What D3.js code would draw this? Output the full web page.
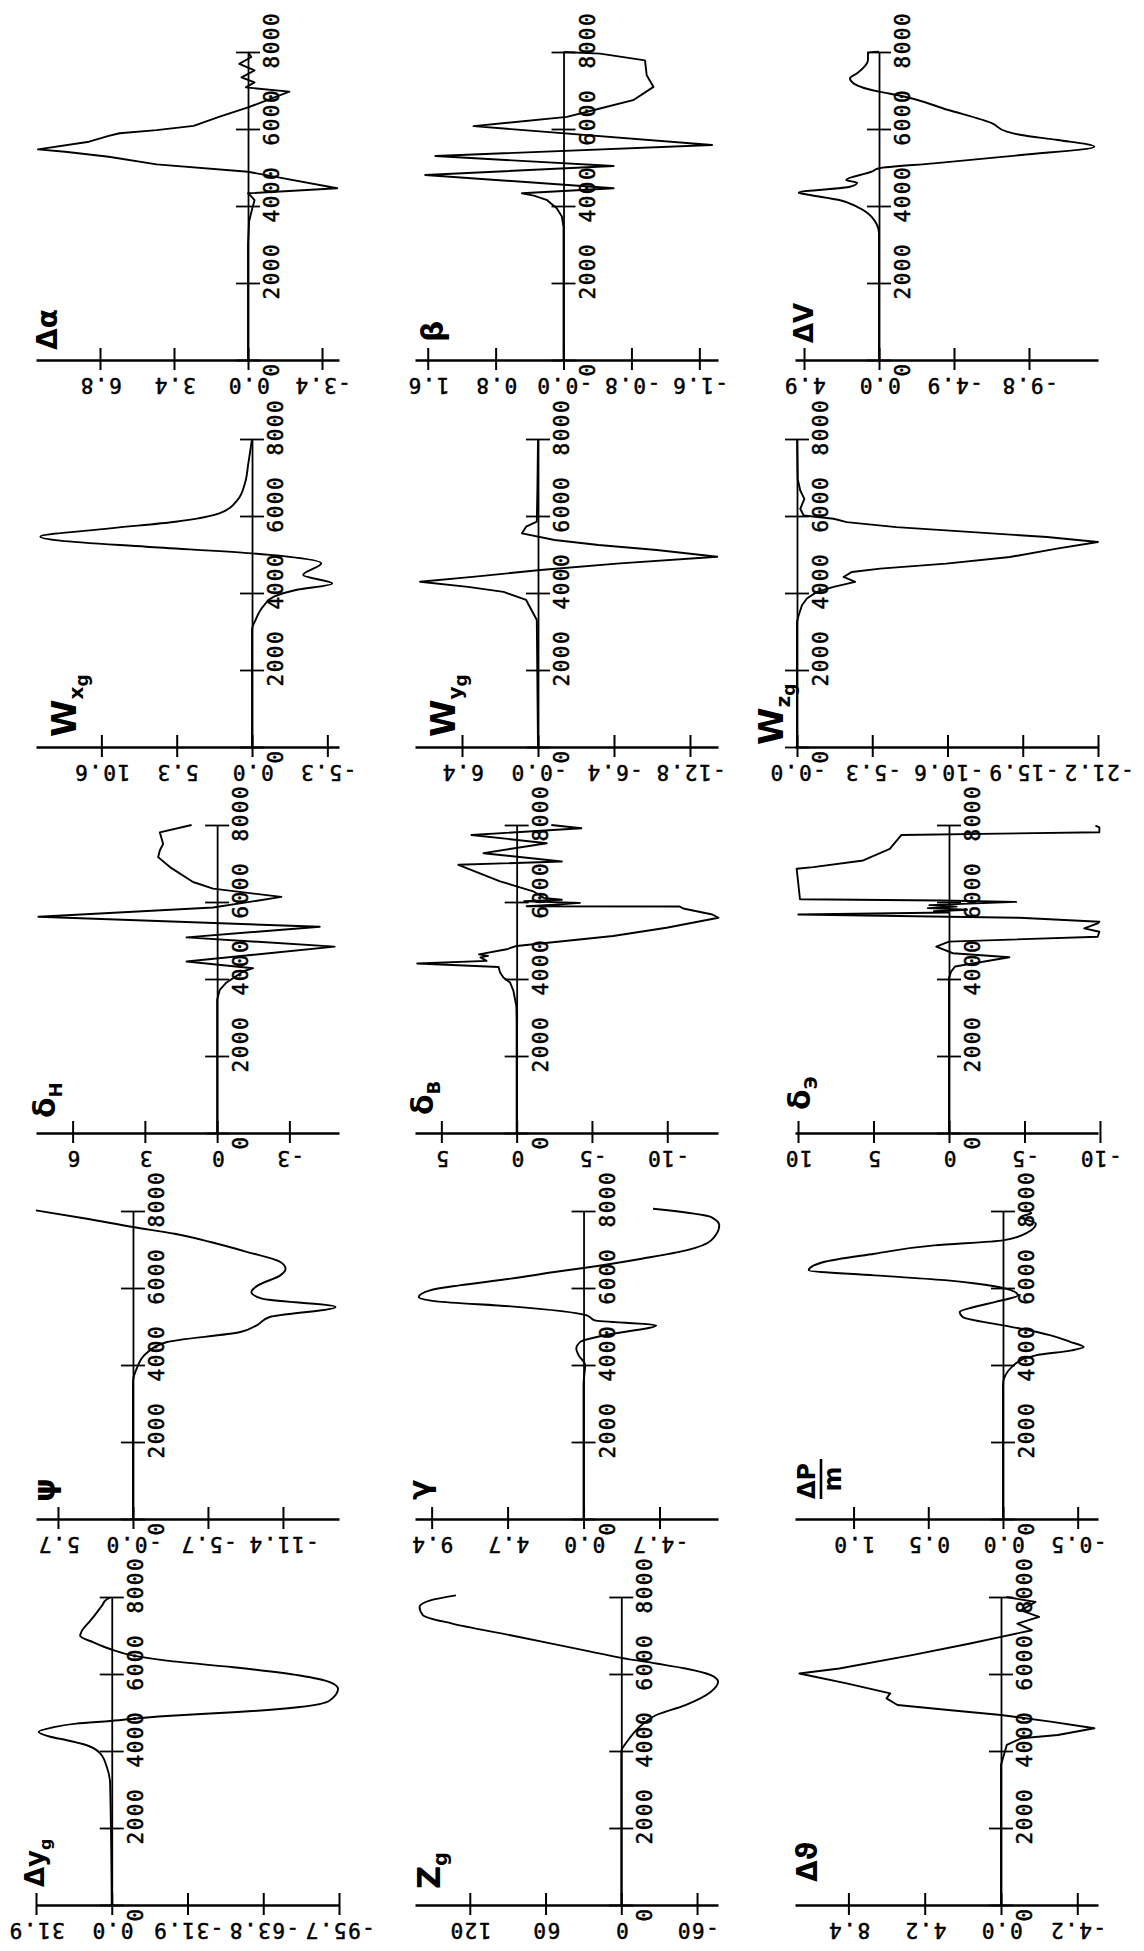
<!DOCTYPE html>
<html>
<head>
<meta charset="utf-8">
<script src="https://cdn.jsdelivr.net/npm/d3@7"></script>
<style>
  body { margin: 0; background: #fff; }
  svg { display: block; }
</style>
</head>
<body>
<script>
// time axis shared by all panels (t, 0..8000)
var timeTicks = [0, 2000, 4000, 6000, 8000];

// value axis tick labels, as printed, and the value at each end of the axis
var alphaTicks = ["6.8", "3.4", "0.0", "-3.4"],            alphaExt = [9.74, -4.18];
var betaTicks  = ["1.6", "0.8", "-0.0", "-0.8", "-1.6"],   betaExt  = [1.75, -1.82];
var dvTicks    = ["4.9", "0.0", "-4.9", "-9.8"],           dvExt    = [5.49, -14.31];
var wxTicks    = ["10.6", "5.3", "0.0", "-5.3"],           wxExt    = [15.2, -6.12];
var wyTicks    = ["6.4", "-0.0", "-6.4", "-12.8"],         wyExt    = [10.36, -15.16];
var wzTicks    = ["-0.0", "-5.3", "-10.6", "-15.9", "-21.2"], wzExt = [0.14, -21.2];
var dhTicks    = ["6", "3", "0", "-3"],                    dhExt    = [7.52, -5.06];
var dbTicks    = ["5", "0", "-5", "-10"],                  dbExt    = [6.75, -13.37];
var deTicks    = ["10", "5", "0", "-5", "-10"],            deExt    = [10.2, -9.87];
var psiTicks   = ["5.7", "-0.0", "-5.7", "-11.4"],         psiExt   = [7.37, -15.66];
var gamTicks   = ["9.4", "4.7", "0.0", "-4.7"],            gamExt   = [10.43, -8.32];
var pmTicks    = ["1.0", "0.5", "0.0", "-0.5"],            pmExt    = [1.392, -0.636];
var dyTicks    = ["31.9", "0.0", "-31.9", "-63.8", "-95.7"], dyExt  = [31.9, -95.7];
var zgTicks    = ["120", "60", "0", "-60"],                zgExt    = [163.4, -76.6];
var dthTicks   = ["8.4", "4.2", "0.0", "-4.2"],            dthExt   = [11.34, -5.34];

// series, [t, value]
var dAlpha = [[0,0],[3000,0],[3600,-0.05],[3950,-0.2],[4150,-0.3],[4280,-0.1],[4330,0],[4460,-4.1],[4890,0],
  [5080,4.2],[5280,6.4],[5410,8.4],[5470,9.65],[5670,7.3],[5820,6.4],[5890,5.9],[5970,4.2],[6080,2.5],
  [6320,1.3],[6560,0],[6970,-1.9],[7080,0.1],[7210,-0.3],[7340,0.3],[7520,-0.3],[7690,0.4],[7870,-0.15],[8000,0]];
var dBeta = [[0,0],[3460,0],[3730,0.02],[3940,0.08],[4160,0.2],[4270,0.35],[4330,0.49],[4460,-0.59],
  [4806,1.63],[5039,-0.59],[5298,1.51],[5583,-1.75],[6075,1.06],[6316,-0.04],[6532,-0.43],[6748,-0.82],
  [7093,-1.06],[7396,-0.98],[7784,-0.96],[7957,-0.43],[8000,0]];
var dDV = [[0,0],[3290,0],[3720,0.48],[3980,1.43],[4155,2.6],[4285,4.5],[4346,5.25],[4500,1.9],[4605,1.43],
  [4675,2.15],[4890,0.48],[4980,0],[5108,-3.58],[5324,-9.3],[5540,-14.07],[5714,-11.7],[5843,-9.3],
  [5930,-8.35],[6146,-7.4],[6493,-4.53],[6882,-1.19],[6969,0],[7185,1.67],[7315,1.9],[7445,1.43],
  [7791,0.72],[7990,0.72],[8010,0]];
var dWx = [[0,0],[3040,0],[3300,-0.25],[3645,-0.77],[3904,-1.54],[4077,-3.08],[4250,-5.64],[4467,-3.6],
  [4770,-4.87],[5030,0],[5203,7.44],[5360,13.5],[5462,14.9],[5679,10.0],[5852,5.39],[6068,2.3],
  [6415,1.03],[6848,0.5],[7367,0.26],[8000,0]];
var dWy = [[0,0],[3300,0.1],[3820,1.0],[4030,2.9],[4160,5.9],[4294,9.94],[4424,5.3],[4597,-0.2],[4770,-6.9],
  [4943,-15.1],[5116,-10],[5246,-5.1],[5376,-1.4],[5549,1.35],[5722,1.0],[5852,0.1],[6680,0.05],[8000,0]];
var dWz = [[0,0],[3252,0],[3424,-0.12],[3683,-0.35],[3856,-0.7],[4029,-1.4],[4158,-2.58],[4288,-4.1],
  [4417,-3.28],[4547,-3.87],[4633,-5.86],[4763,-10.5],[4935,-15.0],[5151,-18.3],[5324,-21.2],[5453,-17.6],
  [5626,-10.5],[5712,-7.0],[5842,-3.5],[5928,-2.58],[6014,-0.47],[6187,-0.23],[6446,-0.52],[6662,-0.23],
  [6964,-0.05],[8000,0]];
var dDH = [[0,0],[3460,0],[3720,-0.11],[3910,-0.39],[4020,-0.66],[4195,-1.08],[4281,-1.49],[4453,1.27],
  [4841,-4.88],[5082,1.27],[5357,-4.26],[5615,7.42],[5856,0.17],[6132,-2.67],[6347,0.17],[6519,1.0],
  [6907,1.96],[7165,2.45],[7337,2.38],[7509,2.24],[7810,2.38],[7999,1.06]];
var dDB = [[0,0],[2900,0],[3300,0.02],[3700,0.22],[3910,0.44],[4040,0.88],[4170,1.1],[4310,1.2],[4402,6.6],
  [4470,2.0],[4560,2.4],[4600,1.9],[4640,2.5],[4772,0.66],[4858,0],[5116,-6.4],[5331,-9.95],[5590,-13.4],
  [5676,-13.0],[5831,-11.06],[5885,-10.8],[5891,-0.66],[5930,-2.5],[5977,-4.2],[6020,-0.5],[6060,-3.0],
  [6106,-1.8],[6278,-1.1],[6536,1.1],[6967,3.87],[7053,-3.0],[7268,2.2],[7527,-2.0],[7742,3.0],
  [7914,-4.3],[8000,-2.3]];
var dDE = [[0,0],[4030,0],[4200,-0.15],[4324,-0.4],[4565,-4.0],[4669,-0.26],[4841,0.84],[4970,0],
  [5099,-9.85],[5228,-9.96],[5314,-8.96],[5443,-9.85],[5486,-9.96],[5590,-4.67],[5616,0],[5676,9.98],
  [5727,0],[5760,1.0],[5800,-1.2],[5840,1.4],[5880,-0.5],[5920,1.3],[6003,-4.45],[6040,0.5],[6072,9.87],
  [6864,10.09],[6907,8.99],[7079,5.68],[7380,3.92],[7742,3.15],[7810,-9.96],[7940,-9.96],[7983,-9.7]];
var dPsi = [[0,0],[3550,0],[3904,-0.28],[4300,-1.0],[4597,-2.6],[4857,-8.16],[5030,-9.4],[5246,-10.4],
  [5506,-15.4],[5722,-9.8],[5895,-9.0],[6068,-9.5],[6328,-11.2],[6501,-11.6],[6675,-11.2],[6934,-8.7],
  [7194,-5.9],[7410,-3.16],[7584,0],[7800,3.5],[8016,7.38]];
var dGam = [[0,0],[3500,0],[4000,-0.1],[4250,0.3],[4420,0.45],[4600,0.2],[4780,-1.4],[5030,-4.5],
  [5160,-0.7],[5290,-0.2],[5523,4.5],[5653,9.1],[5766,10.2],[5940,9.5],[6068,7.7],[6242,4.5],[6415,1.8],
  [6519,0],[6761,-3.6],[6977,-6.35],[7237,-7.9],[7627,-8.4],[7843,-7.9],[8060,-4.3]];
var dPm = [[0,0],[3500,0],[3991,-0.07],[4250,-0.22],[4380,-0.46],[4467,-0.54],[4600,-0.45],[4770,-0.32],
  [4943,-0.12],[5030,0],[5246,0.27],[5376,0.29],[5500,0.2],[5640,0.05],[5809,-0.1],[5982,-0.02],
  [6112,0.17],[6198,0.37],[6328,0.86],[6458,1.3],[6675,1.2],[6891,0.86],[7107,0.46],[7237,0],
  [7454,-0.17],[7670,-0.22],[7843,-0.12],[7950,-0.19],[8010,-0.15]];
var dDy = [[0,0],[3160,0.7],[3590,2.1],[3940,4.9],[4150,10.5],[4280,18.9],[4370,25.9],[4497,30.8],
  [4610,25],[4712,15],[4781,0.7],[4910,-23.1],[5005,-51.2],[5142,-79.2],[5314,-91.8],[5616,-95.3],
  [5788,-91.8],[5960,-79.2],[6175,-51.2],[6347,-23.1],[6477,-9.1],[6649,0.7],[6821,7.7],[6993,13.3],
  [7122,12.6],[7381,9.1],[7596,6.3],[7768,4.2],[7940,2.1],[7983,0.7]];
var dZg = [[0,0],[3986,0],[4245,-4.6],[4676,-16.2],[4935,-27.7],[5194,-50.8],[5540,-71],[5799,-76.7],
  [5971,-71],[6144,-50.8],[6273,-27.7],[6420,0],[6619,30],[7007,87.7],[7309,133.9],[7525,157],
  [7741,159.8],[7914,151.2],[8043,131]];
var dDth = [[0,0],[3640,0],[4158,-0.32],[4331,-1.12],[4417,-3.13],[4590,-5.14],[4762,-2.73],[4935,0],
  [5065,2.9],[5194,5.7],[5367,6.3],[5496,6.1],[5755,8.5],[6014,11.1],[6144,8.9],[6489,4.9],[6791,1.7],
  [6964,0],[7137,-1.7],[7309,-0.9],[7482,-2.1],[7654,-1.1],[7870,-1.9],[8000,-0.3]];

// panel layout: row / column, label and curve style
var panels = [
  {row: 0, col: 0, ticks: alphaTicks, ext: alphaExt, data: dAlpha, smooth: false, lab: {main: "Δα", dx: 21, dy: -10, size: 28}},
  {row: 0, col: 1, ticks: betaTicks,  ext: betaExt,  data: dBeta,  smooth: false, lab: {main: "β", dx: 28, dy: -18, size: 30}},
  {row: 0, col: 2, ticks: dvTicks,    ext: dvExt,    data: dDV,    smooth: true,  lab: {main: "ΔV", dx: 18, dy: -17, size: 26}},
  {row: 1, col: 0, ticks: wxTicks,    ext: wxExt,    data: dWx,    smooth: true,  lab: {main: "W", sub: "x", sub2: "g", dx: 40, dy: -10, size: 34}},
  {row: 1, col: 1, ticks: wyTicks,    ext: wyExt,    data: dWy,    smooth: false, lab: {main: "W", sub: "y", sub2: "g", dx: 40, dy: -10, size: 34}},
  {row: 1, col: 2, ticks: wzTicks,    ext: wzExt,    data: dWz,    smooth: false, lab: {main: "W", sub: "z", sub2: "g", dx: -12, dy: -2, size: 34}},
  {row: 2, col: 0, ticks: dhTicks,    ext: dhExt,    data: dDH,    smooth: false, lab: {main: "δ", sub: "Н", dx: 19, dy: -15, size: 30}},
  {row: 2, col: 1, ticks: dbTicks,    ext: dbExt,    data: dDB,    smooth: false, lab: {main: "δ", sub: "В", dx: 18, dy: -18, size: 30}},
  {row: 2, col: 2, ticks: deTicks,    ext: deExt,    data: dDE,    smooth: false, lab: {main: "δ", sub: "Э", dx: 15, dy: -23, size: 30}},
  {row: 3, col: 0, ticks: psiTicks,   ext: psiExt,   data: dPsi,   smooth: true,  lab: {main: "ψ", dx: 19, dy: -17, size: 30}},
  {row: 3, col: 1, ticks: gamTicks,   ext: gamExt,   data: dGam,   smooth: true,  lab: {main: "γ", dx: 15, dy: -19, size: 30}},
  {row: 3, col: 2, ticks: pmTicks,    ext: pmExt,    data: dPm,    smooth: true,  lab: {frac: ["ΔP", "m"], dx: 20, dy: -20, size: 24}},
  {row: 4, col: 0, ticks: dyTicks,    ext: dyExt,    data: dDy,    smooth: true,  lab: {main: "Δy", sub: "g", dx: 8, dy: -18, size: 26}},
  {row: 4, col: 1, ticks: zgTicks,    ext: zgExt,    data: dZg,    smooth: true,  lab: {main: "Z", sub: "g", dx: 25, dy: -16, size: 32}},
  {row: 4, col: 2, ticks: dthTicks,   ext: dthExt,   data: dDth,   smooth: false, lab: {main: "Δϑ", dx: 22, dy: -23, size: 28}}
];

var width = 1144, height = 1951;
var rowAxisY = [360, 747, 1133, 1519, 1905],
    colLeft = [36, 415, 795],
    axisLen = 303,
    timeLen = 308;
var tickFont = "'DejaVu Sans Mono', monospace";

var svg = d3.select("body").append("svg")
    .attr("width", width)
    .attr("height", height);
svg.append("rect").attr("width", width).attr("height", height).attr("fill", "#fff");

panels.forEach(function (p) {
  var y0 = rowAxisY[p.row], x0 = colLeft[p.col];
  var x = d3.scaleLinear().domain(p.ext).range([x0, x0 + axisLen]);
  var y = d3.scaleLinear().domain([0, 8000]).range([y0, y0 - timeLen]);
  var g = svg.append("g");

  /* value axis, labels upside down under the ticks */
  var vAxis = d3.axisBottom(x)
      .tickValues(p.ticks.map(Number))
      .tickFormat(function (d, i) { return p.ticks[i]; })
      .tickSizeInner(10)
      .tickSizeOuter(0);
  var va = g.append("g")
      .attr("transform", "translate(0," + y0 + ")")
      .call(vAxis)
      .attr("font-family", tickFont)
      .attr("font-size", 21);
  va.select(".domain").attr("stroke", "#000").attr("stroke-width", 2.6);
  va.selectAll(".tick line").attr("y1", -12).attr("y2", 10)
      .attr("stroke", "#000").attr("stroke-width", 2);
  va.selectAll(".tick text")
      .attr("y", null).attr("dy", null)
      .attr("fill", "#000")
      .attr("stroke", "#000").attr("stroke-width", 0.5)
      .attr("letter-spacing", 1.5)
      .attr("text-anchor", "middle")
      .attr("transform", "translate(0,18) rotate(180)");

  /* time axis along the zero line */
  var tAxis = d3.axisRight(y)
      .tickValues(timeTicks)
      .tickFormat(d3.format("d"))
      .tickSizeInner(12)
      .tickSizeOuter(0);
  var ta = g.append("g")
      .attr("transform", "translate(" + x(0) + ",0)")
      .call(tAxis)
      .attr("font-family", tickFont)
      .attr("font-size", 21);
  ta.select(".domain").attr("stroke", "#000").attr("stroke-width", 1.8);
  ta.selectAll(".tick line").attr("x1", -12).attr("x2", 12)
      .attr("stroke", "#000").attr("stroke-width", 1.8);
  ta.selectAll(".tick text")
      .attr("x", null).attr("dy", null)
      .attr("fill", "#000")
      .attr("stroke", "#000").attr("stroke-width", 0.5)
      .attr("letter-spacing", 1.5)
      .attr("text-anchor", "start")
      .attr("transform", "translate(31,16) rotate(-90)");

  /* the curve */
  var line = d3.line()
      .x(function (d) { return x(d[1]); })
      .y(function (d) { return y(d[0]); })
      .curve(p.smooth ? d3.curveMonotoneY : d3.curveLinear);
  g.append("path")
      .datum(p.data)
      .attr("d", line)
      .attr("fill", "none")
      .attr("stroke", "#000")
      .attr("stroke-width", 1.9)
      .attr("stroke-linejoin", "round");

  /* variable name, written sideways */
  var L = p.lab;
  var lg = g.append("g")
      .attr("transform", "translate(" + (x0 + L.dx) + "," + (y0 + L.dy) + ") rotate(-90)")
      .attr("font-family", "'DejaVu Sans', sans-serif")
      .attr("font-weight", "bold")
      .attr("fill", "#000");
  if (L.frac) {
    lg.append("text").attr("font-size", L.size).text(L.frac[0]);
    lg.append("line").attr("x1", 0).attr("x2", 40).attr("y1", 6).attr("y2", 6)
        .attr("stroke", "#000").attr("stroke-width", 2.6);
    lg.append("text").attr("font-size", L.size).attr("x", 20).attr("y", 26)
        .attr("text-anchor", "middle").text(L.frac[1]);
  } else {
    var t = lg.append("text").attr("font-size", L.size);
    t.append("tspan").text(L.main);
    if (L.sub) t.append("tspan").attr("font-size", Math.round(L.size * 0.6)).attr("dy", 7).text(L.sub);
    if (L.sub2) t.append("tspan").attr("font-size", Math.round(L.size * 0.5)).attr("dy", 5).text(L.sub2);
  }
});
</script>
</body>
</html>
